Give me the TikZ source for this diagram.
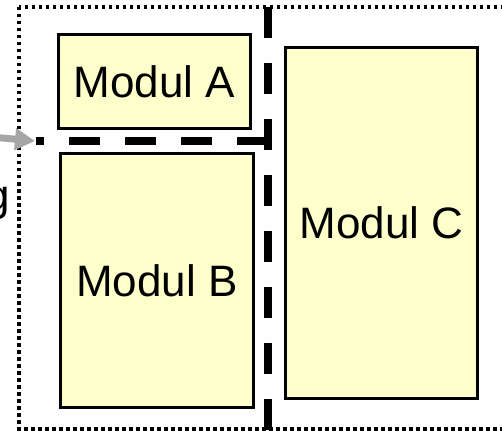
\documentclass[tikz,border=0pt]{standalone}
\usepackage{fontspec}
\setmainfont{Liberation Sans}
\usetikzlibrary{arrows.meta}
\definecolor{modfill}{HTML}{FFFFCC}
\definecolor{arrgray}{HTML}{A6A6A6}
\tikzset{
  modbox/.style={draw=black, line width=3pt, fill=modfill, rectangle, inner sep=0pt,
    font=\fontsize{44}{52}\selectfont},
  cutline/.style={line width=8.5pt, dash pattern=on 31pt off 25pt},
  framebox/.style={line width=3.5pt, dash pattern=on 3.5pt off 3.5pt},
  pointer/.style={draw=arrgray, line width=7pt, -{Triangle[length=20pt,width=21pt]}}
}
\begin{document}
\begin{tikzpicture}[x=1pt,y=-1pt]
\useasboundingbox (0,0) rectangle (502,430);
% outer dotted frame
\draw[framebox] (19,7) rectangle (515,429);
% modules
\node[modbox, minimum width=192pt, minimum height=94pt] (A) at (154.5,81.5) {Modul A};
\node[modbox, minimum width=193pt, minimum height=254pt] (B) at (157,280.5) {Modul B};
\node[modbox, minimum width=192pt, minimum height=351pt] (C) at (381.5,223) {Modul C};
% cut lines
\coordinate (vt) at (268,7);
\coordinate (vb) at (268,440);
\coordinate (hr) at (268,141);
\coordinate (hl) at (36,141);
\draw[cutline] (vt) -- (vb);
\draw[cutline] (hr) -- (hl);
% pointer from outside label
\coordinate (ps) at (-20,136);
\coordinate (pt) at (35,141);
\draw[pointer] (ps) -- (pt);
\node[anchor=base east, inner sep=0pt, font=\fontsize{44}{52}\selectfont] (lbl) at (10,210) {g};
\end{tikzpicture}
\end{document}
